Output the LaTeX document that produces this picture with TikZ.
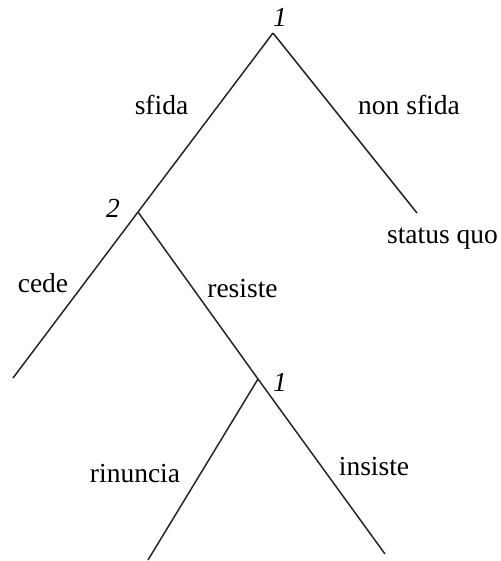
\documentclass[tikz,border=0pt]{standalone}
\usepackage{fontspec}
\setmainfont{Liberation Serif}
\begin{document}
\begin{tikzpicture}[x=0.5pt,y=-0.5pt,
  branch/.style={line width=0.75pt, draw=black!85},
  movelabel/.style={anchor=base, inner sep=0pt, font=\fontsize{13.75}{16}\selectfont},
  player/.style={anchor=base, inner sep=0pt, font=\fontsize{13.75}{16}\selectfont\itshape}]
\useasboundingbox (0,0) rectangle (501,561);

% decision points and terminal ends
\coordinate (root) at (273,33);
\coordinate (two) at (138,212);
\coordinate (sq) at (417,213);
\coordinate (cedeEnd) at (13,378);
\coordinate (low) at (258,379);
\coordinate (rinEnd) at (148,560);
\coordinate (insEnd) at (385,554);

% branches
\draw[branch] (root) -- (two);
\draw[branch] (root) -- (sq);
\draw[branch] (two) -- (cedeEnd);
\draw[branch] (two) -- (low);
\draw[branch] (low) -- (rinEnd);
\draw[branch] (low) -- (insEnd);

% players
\node[player] (p1) at (280,27) {1};
\node[player] (p2) at (113,217) {2};
\node[player] (p3) at (280,391) {1};

% moves and outcome
\node[movelabel] (sfida) at (161.5,115) {sfida};
\node[movelabel] (nonsfida) at (409,115) {non sfida};
\node[movelabel] (statusquo) at (442.5,243) {status quo};
\node[movelabel] (cede) at (43,292) {cede};
\node[movelabel] (resiste) at (242.5,297) {resiste};
\node[movelabel] (rinuncia) at (135,482) {rinuncia};
\node[movelabel] (insiste) at (374,475) {insiste};
\end{tikzpicture}
\end{document}
